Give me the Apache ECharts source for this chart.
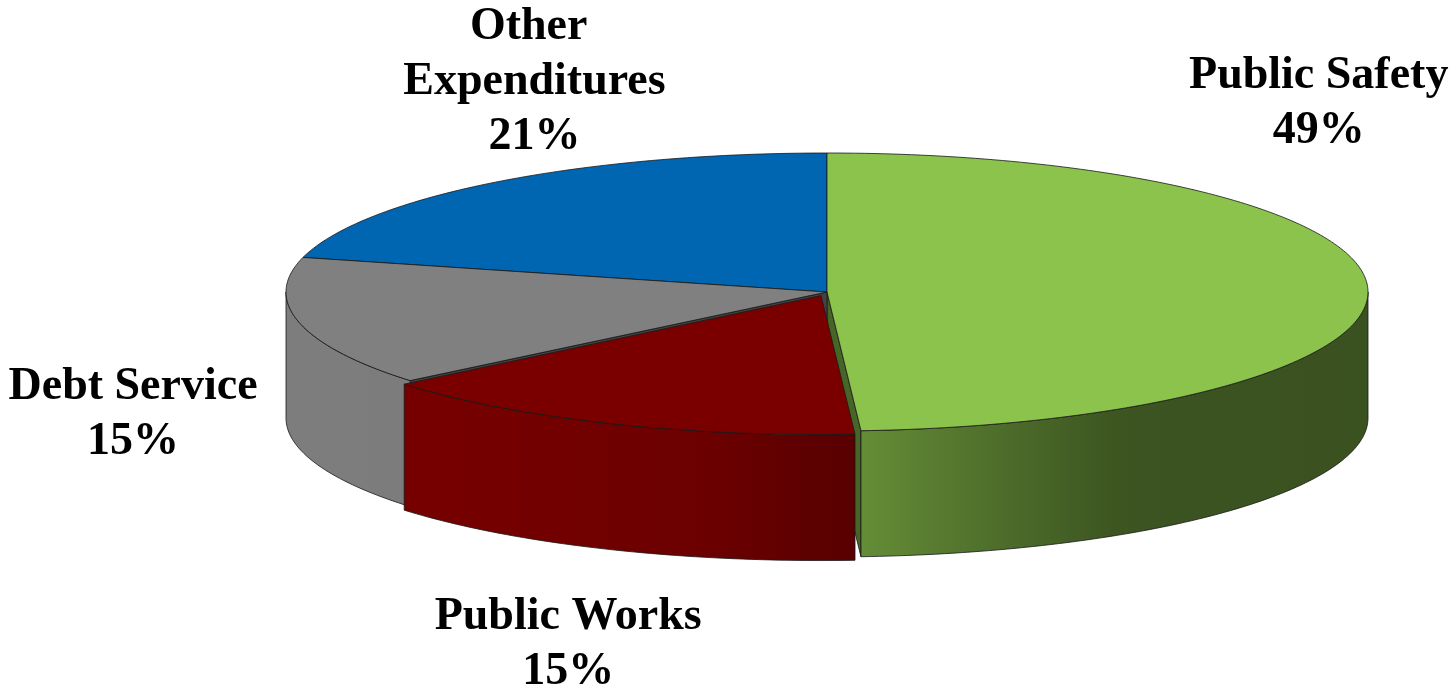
<!DOCTYPE html>
<html>
<head>
<meta charset="utf-8">
<script src="https://cdn.jsdelivr.net/npm/echarts@6/dist/echarts.min.js"></script>
<style>
  html, body { margin: 0; padding: 0; background: #ffffff; }
  #chart { width: 1455px; height: 692px; }
</style>
</head>
<body>
<div id="chart"></div>
<script>
// Budget shares by category (percent of total)
const categories = ['Public Safety', 'Public Works', 'Debt Service', 'Other Expenditures'];
const shares = [49, 15, 15, 21];

// Appearance of the tilted pie
const sliceColors = ['#8bc34c', '#7a0000', '#808080', '#0066b2'];
const pie = { cx: 827, cy: 292, rx: 541, ry: 139, depth: 126 };
const explode = [0, 15, 0, 0];
const labelOffset = [[-49, -184], [-38, 222], [-166, 92], [39, -100]];
const labelFont = { size: 46, lineHeight: 55, family: '"Liberation Serif", "Times New Roman", serif' };

// Side-wall lighting: brightness factor against horizontal position on the rim (-1 left .. 1 right)
const lightCurve = [[-1, 0.98], [-0.6, 0.96], [-0.2, 0.88], [0, 0.76], [0.1, 0.70], [0.3, 0.57], [0.55, 0.43], [1, 0.42]];

const total = shares.reduce((a, b) => a + b, 0);
const startAngle = [];
(function () {
  let acc = 0;
  shares.forEach(v => { startAngle.push(acc / total * 360); acc += v; });
})();
const endAngle = shares.map((v, i) => startAngle[i] + v / total * 360);

function rad(d) { return d * Math.PI / 180; }
function rim(th, ox, oy, dz) {
  return [pie.cx + ox + pie.rx * Math.sin(rad(th)), pie.cy + oy - pie.ry * Math.cos(rad(th)) + dz];
}
function light(s) {
  s = Math.max(-1, Math.min(1, s));
  for (let k = 1; k < lightCurve.length; k++) {
    const a = lightCurve[k - 1], b = lightCurve[k];
    if (s <= b[0]) return a[1] + (b[1] - a[1]) * (s - a[0]) / (b[0] - a[0]);
  }
  return lightCurve[lightCurve.length - 1][1];
}
function shade(hex, k) {
  const n = parseInt(hex.slice(1), 16);
  const r = Math.round(((n >> 16) & 255) * k);
  const g = Math.round(((n >> 8) & 255) * k);
  const b = Math.round((n & 255) * k);
  return 'rgb(' + r + ',' + g + ',' + b + ')';
}
function arc(a1, a2, ox, oy, dz) {
  const pts = [];
  const steps = Math.max(2, Math.ceil((a2 - a1) / 1));
  for (let k = 0; k <= steps; k++) pts.push(rim(a1 + (a2 - a1) * k / steps, ox, oy, dz));
  return pts;
}

const edge = 'rgba(25,25,25,0.8)';

// Paint order: slices further back first
const midAngle = shares.map((v, i) => (startAngle[i] + endAngle[i]) / 2);
const order = categories.map((c, i) => i).sort((a, b) => (-Math.cos(rad(midAngle[a]))) - (-Math.cos(rad(midAngle[b]))));
const rank = {};
order.forEach((idx, r) => { rank[idx] = r; });

function renderItem(params, api) {
  const i = api.value(0);
  const a1 = startAngle[i], a2 = endAngle[i];
  const mid = midAngle[i];
  const ox = explode[i] * Math.sin(rad(mid));
  const oy = -explode[i] * Math.cos(rad(mid)) * pie.ry / pie.rx;
  const base = sliceColors[i];
  const zb = rank[i] * 10;
  const children = [];
  const c = [pie.cx + ox, pie.cy + oy];

  // Cut faces that turn toward the viewer
  [[a1, a1 - 90], [a2, a2 + 90]].forEach(([a, n]) => {
    if (-Math.cos(rad(n)) > 0.001) {
      const p = rim(a, ox, oy, 0);
      children.push({
        type: 'polygon', z2: zb + 1,
        shape: { points: [c, p, [p[0], p[1] + pie.depth], [c[0], c[1] + pie.depth]] },
        style: { fill: shade(base, 0.52), stroke: edge, lineWidth: 1 }
      });
    }
  });

  // Outer wall on the front half of the rim
  const lo = Math.max(a1, 90), hi = Math.min(a2, 270);
  if (hi > lo) {
    const top = arc(lo, hi, ox, oy, 0);
    const bottom = arc(lo, hi, ox, oy, pie.depth).reverse();
    const xs = top.map(p => p[0]);
    const xmin = Math.min.apply(null, xs), xmax = Math.max.apply(null, xs);
    const stops = [];
    const n = 24;
    for (let k = 0; k <= n; k++) {
      const x = xmin + (xmax - xmin) * k / n;
      stops.push({ offset: k / n, color: shade(base, light((x - pie.cx - ox) / pie.rx)) });
    }
    children.push({
      type: 'polygon', z2: zb + 2,
      shape: { points: top.concat(bottom) },
      style: {
        fill: new echarts.graphic.LinearGradient(xmin, 0, xmax, 0, stops, true),
        stroke: edge, lineWidth: 1
      }
    });
  }

  // Top face
  children.push({
    type: 'polygon', z2: zb + 3,
    shape: { points: [c].concat(arc(a1, a2, ox, oy, 0)) },
    style: { fill: base, stroke: edge, lineWidth: 1 }
  });

  // Category label with share
  const anchor = rim(mid, ox, oy, 0);
  children.push({
    type: 'text', z2: 200,
    x: anchor[0] + labelOffset[i][0],
    y: anchor[1] + labelOffset[i][1],
    style: {
      text: categories[i] + '\n' + shares[i] + '%',
      fill: '#000000',
      fontSize: labelFont.size,
      fontWeight: 'bold',
      fontFamily: labelFont.family,
      lineHeight: labelFont.lineHeight,
      width: 320,
      overflow: 'break',
      align: 'center', textAlign: 'center',
      verticalAlign: 'middle', textVerticalAlign: 'middle'
    }
  });

  return { type: 'group', children: children };
}

const chart = echarts.init(document.getElementById('chart'), null, { renderer: 'canvas' });
chart.setOption({
  backgroundColor: '#ffffff',
  animation: false,
  series: [{
    type: 'custom',
    coordinateSystem: 'none',
    renderItem: renderItem,
    data: order.map(i => [i])
  }]
});
</script>
</body>
</html>
